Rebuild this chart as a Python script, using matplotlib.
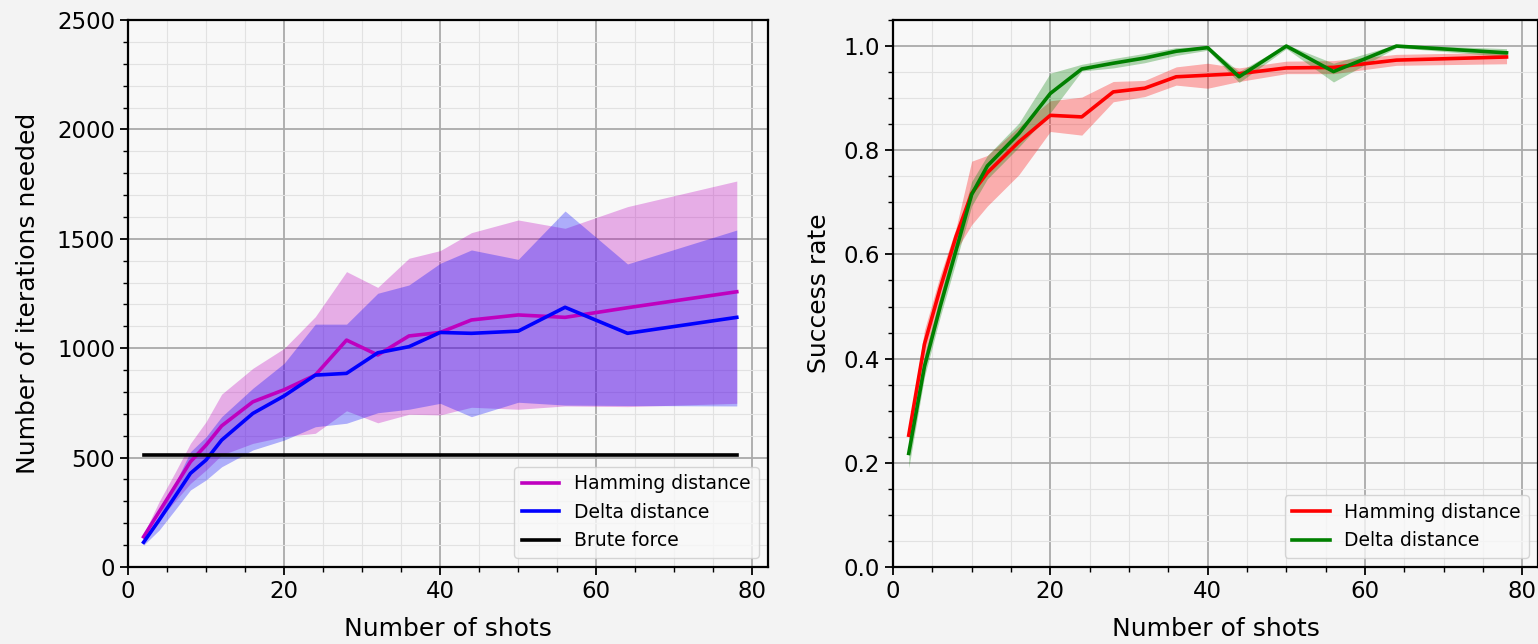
import numpy as np
import matplotlib
matplotlib.use("Agg")
import matplotlib.pyplot as plt
from matplotlib.ticker import MultipleLocator

# ---------------- data ----------------
shots = [2, 4, 6, 8, 10, 12, 16, 20, 24, 28, 32, 36, 40, 44, 50, 56, 64, 78]

# left: iterations needed
ham_iter = [138, 253, 367, 481, 557, 645, 755, 810, 877, 1037, 969, 1056, 1072, 1129, 1152, 1141, 1185, 1258]
ham_iter_hi = [150, 300, 430, 565, 664, 790, 908, 999, 1144, 1350, 1278, 1411, 1446, 1528, 1586, 1548, 1647, 1764]
ham_iter_lo = [125, 215, 300, 382, 443, 512, 565, 596, 611, 714, 659, 698, 695, 730, 721, 736, 733, 748]
del_iter = [113, 215, 321, 428, 489, 580, 702, 782, 877, 885, 979, 1007, 1072, 1068, 1078, 1187, 1068, 1141]
del_iter_hi = [125, 240, 380, 527, 595, 687, 817, 931, 1110, 1110, 1251, 1289, 1388, 1449, 1406, 1627, 1385, 1540]
del_iter_lo = [100, 169, 260, 352, 398, 458, 535, 580, 641, 657, 705, 721, 748, 687, 753, 740, 738, 736]
brute_force = 512

# right: success rate
ham_rate = [0.253, 0.428, 0.535, 0.634, 0.717, 0.757, 0.816, 0.867, 0.864, 0.912, 0.919, 0.941, 0.944, 0.947, 0.958, 0.959, 0.973, 0.979]
ham_rate_hi = [0.265, 0.455, 0.560, 0.650, 0.779, 0.790, 0.845, 0.895, 0.902, 0.932, 0.934, 0.960, 0.967, 0.958, 0.971, 0.972, 0.984, 0.988]
ham_rate_lo = [0.240, 0.402, 0.510, 0.607, 0.657, 0.693, 0.753, 0.836, 0.829, 0.893, 0.903, 0.925, 0.919, 0.932, 0.947, 0.947, 0.963, 0.966]
del_rate = [0.218, 0.385, 0.500, 0.607, 0.715, 0.770, 0.832, 0.909, 0.956, 0.967, 0.977, 0.990, 0.997, 0.941, 1.000, 0.951, 1.000, 0.987]
del_rate_hi = [0.235, 0.405, 0.520, 0.630, 0.740, 0.790, 0.852, 0.948, 0.965, 0.976, 0.986, 0.997, 1.000, 0.951, 1.003, 0.967, 1.003, 0.995]
del_rate_lo = [0.190, 0.365, 0.480, 0.585, 0.693, 0.745, 0.806, 0.872, 0.952, 0.958, 0.968, 0.982, 0.992, 0.930, 0.995, 0.931, 0.997, 0.980]

# ---------------- figure ----------------
plt.rcParams['font.family'] = ['DejaVu Sans']
fig = plt.figure(figsize=(15.38, 6.44), dpi=100, facecolor='#f3f3f3')
ax1 = fig.add_axes([128/1538, 77/644, 640/1538, 547/644])
ax2 = fig.add_axes([893/1538, 77/644, 645/1538, 547/644])

lw = 2.6
for ax in (ax1, ax2):
    ax.set_facecolor('#f8f8f8')
    ax.xaxis.set_major_locator(MultipleLocator(20))
    ax.xaxis.set_minor_locator(MultipleLocator(5))
    ax.grid(which='major', color='#aaaaaa', linewidth=1.3)
    ax.grid(which='minor', color='#e2e2e2', linewidth=0.8)
    ax.set_axisbelow(True)
    ax.tick_params(which='major', length=5.8, width=1.3, labelsize=16.5, direction='out')
    ax.tick_params(which='minor', length=3.5, width=1.0, direction='out')
    for s in ax.spines.values():
        s.set_linewidth(1.6)
    ax.set_xlim(0, 82)
    ax.set_xlabel('Number of shots', fontsize=18)
    ax.xaxis.set_label_coords(0.5, -0.091)

# left
ax1.fill_between(shots, ham_iter_lo, ham_iter_hi, color='m', alpha=0.3, linewidth=0)
ax1.fill_between(shots, del_iter_lo, del_iter_hi, color='b', alpha=0.3, linewidth=0)
ax1.plot(shots, ham_iter, color='m', lw=lw, label='Hamming distance')
ax1.plot(shots, del_iter, color='b', lw=lw, label='Delta distance')
ax1.plot([shots[0], shots[-1]], [brute_force, brute_force], color='k', lw=lw, label='Brute force')
ax1.set_ylim(0, 2500)
ax1.yaxis.set_major_locator(MultipleLocator(500))
ax1.yaxis.set_minor_locator(MultipleLocator(100))
ax1.set_ylabel('Number of iterations needed', fontsize=18)
ax1.yaxis.set_label_coords(-0.1375, 0.5)
ax1.legend(loc='lower right', fontsize=13.5, facecolor='#f8f8f8', framealpha=0.8)

# right
ax2.fill_between(shots, ham_rate_lo, ham_rate_hi, color='r', alpha=0.3, linewidth=0)
ax2.fill_between(shots, del_rate_lo, del_rate_hi, color='g', alpha=0.3, linewidth=0)
ax2.plot(shots, ham_rate, color='r', lw=lw, label='Hamming distance')
ax2.plot(shots, del_rate, color='g', lw=lw, label='Delta distance')
ax2.set_ylim(0, 1.05)
ax2.yaxis.set_major_locator(MultipleLocator(0.2))
ax2.yaxis.set_minor_locator(MultipleLocator(0.05))
ax2.set_ylabel('Success rate', fontsize=18)
ax2.yaxis.set_label_coords(-0.096, 0.5)
ax2.legend(loc='lower right', fontsize=13.5, facecolor='#f8f8f8', framealpha=0.8)

fig.savefig('out.png', dpi=100, facecolor=fig.get_facecolor())
